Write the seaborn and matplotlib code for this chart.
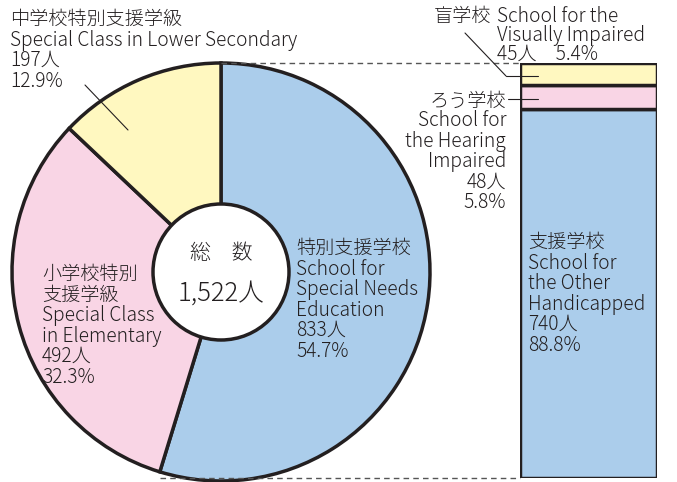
import matplotlib
matplotlib.use("Agg")
import matplotlib.pyplot as plt
import seaborn as sns
from matplotlib.patches import Circle

# pie: total breakdown
pie_labels = ["特別支援学校", "小学校特別支援学級", "中学校特別支援学級"]
pie_counts = [833, 492, 197]
pie_pcts = [54.7, 32.3, 12.9]
pie_colors = ["#abcdeb", "#f9d5e5", "#fff8c0"]

# bar: breakdown of special needs schools (bottom -> top)
bar_labels = ["支援学校", "ろう学校", "盲学校"]
bar_counts = [740, 48, 45]
bar_pcts = [88.8, 5.8, 5.4]
bar_colors = ["#abcdeb", "#f9d5e5", "#fff8c0"]

total = sum(pie_counts)

sns.set_style("white")
plt.rcParams["font.family"] = ["Noto Sans CJK JP", "DejaVu Sans"]
plt.rcParams["font.weight"] = "light"

W, H = 677, 482
fig = plt.figure(figsize=(W / 100, H / 100), dpi=100)
ax = fig.add_axes([0, 0, 1, 1])

def Y(py):
    return H - py

txt = "#231f20"
fs = 13.8
ls = 0.97

cx, cy, r = 221, Y(272), 209
ax.pie(pie_counts, colors=pie_colors, startangle=90, counterclock=False,
       center=(cx, cy), radius=r,
       wedgeprops=dict(edgecolor="#231f20", linewidth=2.5))
ax.add_patch(Circle((cx, cy), 68, facecolor="white", edgecolor="#231f20",
                    linewidth=2.5, zorder=5))
ax.set_xlim(0, W)
ax.set_ylim(0, H)
ax.set_aspect("auto")
ax.axis("off")

# center text
ax.text(cx, Y(253), "総　数", ha="center", va="center", fontsize=15, color=txt, zorder=6)
ax.text(cx, Y(293), f"{total:,}人", ha="center", va="center", fontsize=18.5, color=txt, zorder=6)

# pie labels
ax.text(296, Y(238), f"特別支援学校\nSchool for\nSpecial Needs\nEducation\n{pie_counts[0]}人\n{pie_pcts[0]}%",
        ha="left", va="top", fontsize=fs, color=txt, linespacing=ls)
ax.text(42, Y(264), f"小学校特別\n支援学級\nSpecial Class\nin Elementary\n{pie_counts[1]}人\n{pie_pcts[1]}%",
        ha="left", va="top", fontsize=fs, color=txt, linespacing=ls)
ax.text(10, Y(9), f"中学校特別支援学級\nSpecial Class in Lower Secondary\n{pie_counts[2]}人\n{pie_pcts[2]}%",
        ha="left", va="top", fontsize=fs, color=txt, linespacing=ls)
ax.plot([85, 128], [Y(85), Y(130)], color=txt, lw=0.8)

# dashed connectors
ax.plot([221, 520], [Y(63), Y(63)], color="#555555", lw=1, ls=(0, (4, 3)))
ax.plot([160, 520], [Y(478), Y(478)], color="#555555", lw=1, ls=(0, (4, 3)))

# bar labels
ax.text(434, Y(6), "盲学校", ha="left", va="top", fontsize=fs, color=txt)
ax.text(497, Y(6), f"School for the\nVisually Impaired\n{bar_counts[2]}人　{bar_pcts[2]}%",
        ha="left", va="top", fontsize=fs, color=txt, linespacing=0.88)
ax.plot([465, 506], [Y(33), Y(76)], color=txt, lw=0.8, zorder=10)
ax.text(506, Y(101), "ろう学校", ha="right", va="center", fontsize=fs, color=txt)
ax.text(506, Y(110), f"School for\nthe Hearing\nImpaired\n{bar_counts[1]}人\n{bar_pcts[1]}%",
        ha="right", va="top", fontsize=fs, color=txt, linespacing=ls)

# stacked bar
bx = fig.add_axes([520 / W, (H - 478) / H, 137 / W, 415 / H])
bottom = 0
for c, col in zip(bar_counts, bar_colors):
    bx.bar(0, c, bottom=bottom, width=1, color=col, edgecolor="#231f20", linewidth=2.5)
    bottom += c
bx.set_xlim(-0.5, 0.5)
bx.set_ylim(0, sum(bar_counts))
bx.axis("off")
bx.patch.set_alpha(0)

fig.text(528 / W, Y(232) / H, f"支援学校\nSchool for\nthe Other\nHandicapped\n{bar_counts[0]}人\n{bar_pcts[0]}%",
         ha="left", va="top", fontsize=fs, color=txt, linespacing=ls)

# leaders drawn on top of bar
for xs, ys in [([506, 538], [Y(76), Y(76)]), ([508, 538], [Y(99), Y(99)])]:
    fig.add_artist(plt.Line2D([x / W for x in xs], [y / H for y in ys], color=txt, lw=0.8))

fig.savefig("out.png", dpi=100)
